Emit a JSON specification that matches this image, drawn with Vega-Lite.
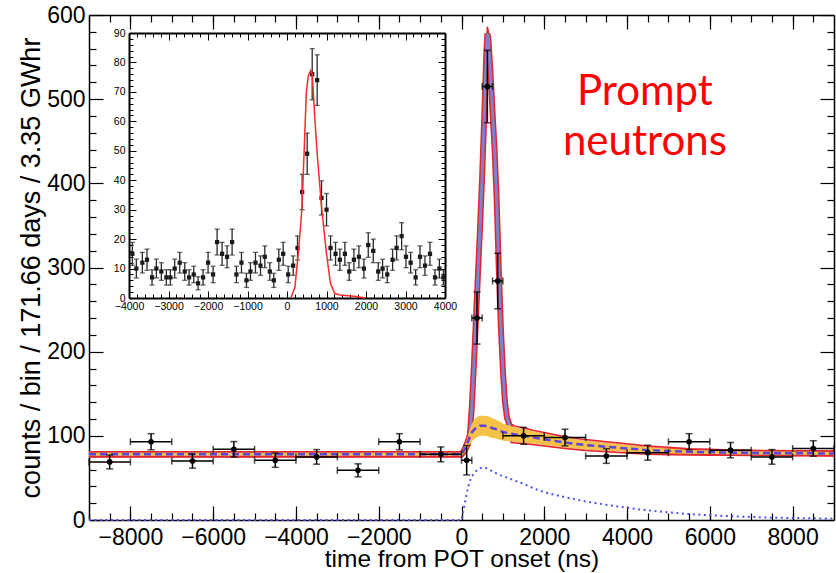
{
"$schema": "https://vega.github.io/schema/vega-lite/v6.json",
"width": 745, "height": 505,
"autosize": {"type": "none"},
"padding": {"left": 89, "top": 15, "right": 2, "bottom": 53},
"background": "white",
"config": {"font": "Liberation Sans", "view": {"stroke": null},
  "axis": {"grid": false, "domainColor": "black", "tickColor": "black", "labelColor": "black", "titleColor": "black", "labelFont": "Liberation Sans", "titleFont": "Liberation Sans", "titleFontWeight": "normal", "zindex": 1, "labelFlush": false, "labelOverlap": false, "format": "d"}},
"datasets": {
"pts": [
{"t":-8500,"lo":-9000,"hi":-8000,"v":69,"ylo":60.7,"yhi":77.3},
{"t":-7500,"lo":-8000,"hi":-7000,"v":93,"ylo":83.4,"yhi":102.6},
{"t":-6500,"lo":-7000,"hi":-6000,"v":70,"ylo":61.6,"yhi":78.4},
{"t":-5500,"lo":-6000,"hi":-5000,"v":84,"ylo":74.8,"yhi":93.2},
{"t":-4500,"lo":-5000,"hi":-4000,"v":71,"ylo":62.6,"yhi":79.4},
{"t":-3500,"lo":-4000,"hi":-3000,"v":75,"ylo":66.3,"yhi":83.7},
{"t":-2500,"lo":-3000,"hi":-2000,"v":59,"ylo":51.3,"yhi":66.7},
{"t":-1500,"lo":-2000,"hi":-1000,"v":93,"ylo":83.4,"yhi":102.6},
{"t":-500,"lo":-1000,"hi":0,"v":78,"ylo":69.2,"yhi":86.8},
{"t":125,"lo":0,"hi":250,"v":71,"ylo":53.5,"yhi":88.5},
{"t":375,"lo":250,"hi":500,"v":240,"ylo":209,"yhi":271},
{"t":625,"lo":500,"hi":750,"v":515,"ylo":472,"yhi":558},
{"t":875,"lo":750,"hi":1000,"v":284,"ylo":251,"yhi":317},
{"t":1500,"lo":1000,"hi":2000,"v":100,"ylo":90,"yhi":110},
{"t":2500,"lo":2000,"hi":3000,"v":98,"ylo":88.1,"yhi":107.9},
{"t":3500,"lo":3000,"hi":4000,"v":76,"ylo":67.3,"yhi":84.7},
{"t":4500,"lo":4000,"hi":5000,"v":80,"ylo":71.1,"yhi":88.9},
{"t":5500,"lo":5000,"hi":6000,"v":93,"ylo":83.4,"yhi":102.6},
{"t":6500,"lo":6000,"hi":7000,"v":83,"ylo":73.9,"yhi":92.1},
{"t":7500,"lo":7000,"hi":8000,"v":75,"ylo":66.3,"yhi":83.7},
{"t":8500,"lo":8000,"hi":9000,"v":85,"ylo":75.8,"yhi":94.2}
],
"fit": [
{"t":-9000,"tot":78,"totLo":75,"totHi":81,"bg":78,"bgLo":76.2,"bgHi":79.8,"dly":0},
{"t":0,"tot":78,"totLo":75,"totHi":81,"bg":78,"bgLo":76.2,"bgHi":79.8,"dly":0},
{"t":50,"tot":82,"totLo":77,"totHi":87,"bg":82,"bgLo":78.5,"bgHi":85.5,"dly":12},
{"t":100,"tot":86,"totLo":79.5,"totHi":92.5,"bg":86,"bgLo":81,"bgHi":91,"dly":25},
{"t":150,"tot":93,"totLo":83.5,"totHi":100.5,"bg":92,"bgLo":85,"bgHi":99,"dly":37},
{"t":200,"tot":100,"totLo":88.5,"totHi":109.5,"bg":99,"bgLo":90,"bgHi":108,"dly":46},
{"t":250,"tot":135,"totLo":127,"totHi":143,"bg":104,"bgLo":93.5,"bgHi":114.5,"dly":52},
{"t":300,"tot":185,"totLo":177,"totHi":193,"bg":107,"bgLo":95.5,"bgHi":118.5,"dly":55},
{"t":350,"tot":240,"totLo":232,"totHi":248,"bg":109.5,"bgLo":97.5,"bgHi":121.5,"dly":58},
{"t":400,"tot":295,"totLo":287,"totHi":303,"bg":111,"bgLo":99,"bgHi":123,"dly":60},
{"t":450,"tot":350,"totLo":342,"totHi":358,"bg":112,"bgLo":100,"bgHi":124,"dly":61.5},
{"t":500,"tot":410,"totLo":402,"totHi":418,"bg":112,"bgLo":100,"bgHi":124,"dly":62.5},
{"t":550,"tot":480,"totLo":472,"totHi":488,"bg":112,"bgLo":100,"bgHi":124,"dly":62},
{"t":600,"tot":555,"totLo":547,"totHi":563,"bg":111.7,"bgLo":99.7,"bgHi":123.7,"dly":61.5},
{"t":625,"tot":578,"totLo":570,"totHi":586,"bg":111.5,"bgLo":99.5,"bgHi":123.5,"dly":61},
{"t":650,"tot":572,"totLo":564,"totHi":580,"bg":111,"bgLo":99,"bgHi":123,"dly":60.5},
{"t":700,"tot":532,"totLo":524,"totHi":540,"bg":110,"bgLo":98,"bgHi":122,"dly":59},
{"t":750,"tot":485,"totLo":477,"totHi":493,"bg":109,"bgLo":97.5,"bgHi":120.5,"dly":58},
{"t":800,"tot":440,"totLo":432,"totHi":448,"bg":108.5,"bgLo":97,"bgHi":120,"dly":56.5},
{"t":850,"tot":380,"totLo":372,"totHi":388,"bg":107.5,"bgLo":96.5,"bgHi":118.5,"dly":55},
{"t":900,"tot":300,"totLo":292,"totHi":308,"bg":106.5,"bgLo":95.5,"bgHi":117.5,"dly":54},
{"t":950,"tot":230,"totLo":222,"totHi":238,"bg":105.5,"bgLo":95,"bgHi":116,"dly":53},
{"t":1000,"tot":178,"totLo":170,"totHi":186,"bg":104.5,"bgLo":94.5,"bgHi":114.5,"dly":52},
{"t":1050,"tot":140,"totLo":132,"totHi":148,"bg":104,"bgLo":94,"bgHi":114,"dly":51},
{"t":1100,"tot":121,"totLo":113,"totHi":129,"bg":103.5,"bgLo":94,"bgHi":113,"dly":50.5},
{"t":1150,"tot":114,"totLo":106,"totHi":122,"bg":103,"bgLo":93.5,"bgHi":112.5,"dly":49},
{"t":1200,"tot":108,"totLo":92,"totHi":114,"bg":102.5,"bgLo":93.5,"bgHi":111.5,"dly":48.5},
{"t":1300,"tot":104,"totLo":91.5,"totHi":111.5,"bg":101.5,"bgLo":93,"bgHi":110,"dly":46.5},
{"t":1500,"tot":101,"totLo":90.5,"totHi":109.5,"bg":100,"bgLo":92,"bgHi":108,"dly":43},
{"t":1750,"tot":98.5,"totLo":89.5,"totHi":106.5,"bg":98,"bgLo":91,"bgHi":105,"dly":37.5},
{"t":2000,"tot":96.3,"totLo":88,"totHi":104,"bg":96,"bgLo":89.5,"bgHi":102.5,"dly":33},
{"t":2500,"tot":92,"totLo":85,"totHi":99,"bg":92,"bgLo":86.5,"bgHi":97.5,"dly":27},
{"t":3000,"tot":89,"totLo":82.5,"totHi":95.5,"bg":89,"bgLo":84,"bgHi":94,"dly":22},
{"t":3500,"tot":87,"totLo":81,"totHi":93,"bg":87,"bgLo":82.5,"bgHi":91.5,"dly":18},
{"t":4000,"tot":85,"totLo":79.5,"totHi":90.5,"bg":85,"bgLo":81,"bgHi":89,"dly":14.5},
{"t":4500,"tot":83,"totLo":78,"totHi":88,"bg":83,"bgLo":79.5,"bgHi":86.5,"dly":11.5},
{"t":5000,"tot":82,"totLo":77.5,"totHi":86.5,"bg":82,"bgLo":79,"bgHi":85,"dly":9.2},
{"t":5500,"tot":81,"totLo":77.2,"totHi":84.8,"bg":81,"bgLo":78.7,"bgHi":83.3,"dly":7},
{"t":6000,"tot":80.5,"totLo":77,"totHi":84,"bg":80.5,"bgLo":78.5,"bgHi":82.5,"dly":5.7},
{"t":6500,"tot":80,"totLo":76.8,"totHi":83.2,"bg":80,"bgLo":78.2,"bgHi":81.8,"dly":4.5},
{"t":7000,"tot":79.7,"totLo":76.6,"totHi":82.8,"bg":79.7,"bgLo":77.9,"bgHi":81.5,"dly":3.6},
{"t":7500,"tot":79.5,"totLo":76.5,"totHi":82.5,"bg":79.5,"bgLo":77.7,"bgHi":81.3,"dly":2.8},
{"t":8000,"tot":79.3,"totLo":76.3,"totHi":82.3,"bg":79.3,"bgLo":77.5,"bgHi":81.1,"dly":2.4},
{"t":8500,"tot":79.2,"totLo":76.2,"totHi":82.2,"bg":79.2,"bgLo":77.4,"bgHi":81,"dly":2},
{"t":9000,"tot":79,"totLo":76,"totHi":82,"bg":79,"bgLo":77.2,"bgHi":80.8,"dly":1.6}
],
"ins": [
{"t":-3915,"v":15,"ylo":11.1,"yhi":18.9},{"t":-3814,"v":10,"ylo":6.8,"yhi":13.2},{"t":-3662,"v":12,"ylo":8.5,"yhi":15.5},{"t":-3544,"v":13,"ylo":9.4,"yhi":16.6},
{"t":-3417,"v":7,"ylo":4.4,"yhi":9.6},{"t":-3307,"v":10,"ylo":6.8,"yhi":13.2},{"t":-3181,"v":9,"ylo":6,"yhi":12},{"t":-3054,"v":7,"ylo":4.4,"yhi":9.6},
{"t":-2953,"v":7,"ylo":4.4,"yhi":9.6},{"t":-2843,"v":10,"ylo":6.8,"yhi":13.2},{"t":-2716,"v":12,"ylo":8.5,"yhi":15.5},{"t":-2589,"v":9,"ylo":6,"yhi":12},
{"t":-2479,"v":7,"ylo":4.4,"yhi":9.6},{"t":-2361,"v":8,"ylo":5.2,"yhi":10.8},{"t":-2251,"v":5,"ylo":2.8,"yhi":7.2},{"t":-2125,"v":7,"ylo":4.4,"yhi":9.6},
{"t":-1998,"v":12,"ylo":8.5,"yhi":15.5},{"t":-1871,"v":8,"ylo":5.2,"yhi":10.8},{"t":-1770,"v":19,"ylo":14.6,"yhi":23.4},{"t":-1643,"v":15,"ylo":11.1,"yhi":18.9},
{"t":-1517,"v":14,"ylo":10.3,"yhi":17.7},{"t":-1390,"v":19,"ylo":14.6,"yhi":23.4},{"t":-1280,"v":8,"ylo":5.2,"yhi":10.8},{"t":-1153,"v":12,"ylo":8.5,"yhi":15.5},
{"t":-1026,"v":6,"ylo":3.6,"yhi":8.4},{"t":-925,"v":9,"ylo":6,"yhi":12},{"t":-798,"v":12,"ylo":8.5,"yhi":15.5},{"t":-671,"v":11,"ylo":7.7,"yhi":14.3},
{"t":-562,"v":14,"ylo":10.3,"yhi":17.7},{"t":-435,"v":9,"ylo":6,"yhi":12},{"t":-334,"v":6,"ylo":3.6,"yhi":8.4},{"t":-207,"v":13,"ylo":9.4,"yhi":16.6},
{"t":-97,"v":15,"ylo":11.1,"yhi":18.9},{"t":30,"v":8,"ylo":5.2,"yhi":10.8},{"t":156,"v":11,"ylo":7.7,"yhi":14.3},{"t":266,"v":17,"ylo":12.9,"yhi":21.1},
{"t":384,"v":36,"ylo":30,"yhi":42},{"t":511,"v":49,"ylo":42,"yhi":56},{"t":638,"v":76,"ylo":67.3,"yhi":84.7},{"t":764,"v":74,"ylo":65.4,"yhi":82.6},
{"t":874,"v":34,"ylo":28.2,"yhi":39.8},{"t":1001,"v":30,"ylo":24.5,"yhi":35.5},{"t":1102,"v":17,"ylo":12.9,"yhi":21.1},{"t":1229,"v":15,"ylo":11.1,"yhi":18.9},
{"t":1339,"v":13,"ylo":9.4,"yhi":16.6},{"t":1465,"v":15,"ylo":11.1,"yhi":18.9},{"t":1575,"v":9,"ylo":6,"yhi":12},{"t":1694,"v":13,"ylo":9.4,"yhi":16.6},
{"t":1820,"v":14,"ylo":10.3,"yhi":17.7},{"t":1947,"v":10,"ylo":6.8,"yhi":13.2},{"t":2057,"v":18,"ylo":13.8,"yhi":22.2},{"t":2184,"v":16,"ylo":12,"yhi":20},
{"t":2310,"v":9,"ylo":6,"yhi":12},{"t":2420,"v":10,"ylo":6.8,"yhi":13.2},{"t":2538,"v":8,"ylo":5.2,"yhi":10.8},{"t":2673,"v":13,"ylo":9.4,"yhi":16.6},
{"t":2775,"v":17,"ylo":12.9,"yhi":21.1},{"t":2902,"v":21,"ylo":16.4,"yhi":25.6},{"t":3012,"v":14,"ylo":10.3,"yhi":17.7},{"t":3130,"v":12,"ylo":8.5,"yhi":15.5},
{"t":3257,"v":7,"ylo":4.4,"yhi":9.6},{"t":3366,"v":14,"ylo":10.3,"yhi":17.7},{"t":3493,"v":11,"ylo":7.7,"yhi":14.3},{"t":3620,"v":15,"ylo":11.1,"yhi":18.9},
{"t":3747,"v":7,"ylo":4.4,"yhi":9.6},{"t":3857,"v":10,"ylo":6.8,"yhi":13.2},{"t":3958,"v":7,"ylo":4.4,"yhi":9.6}
],
"insfit": [
{"t":100,"v":0},{"t":200,"v":3.7},{"t":300,"v":17},{"t":380,"v":31},{"t":440,"v":52},{"t":490,"v":70},{"t":540,"v":75.5},{"t":600,"v":77.3},
{"t":640,"v":76},{"t":663,"v":70.5},{"t":700,"v":62},{"t":764,"v":49},{"t":874,"v":31},{"t":1000,"v":15},{"t":1100,"v":5},{"t":1210,"v":1.5},
{"t":1340,"v":1},{"t":1550,"v":0.8},{"t":1760,"v":0.5},{"t":1970,"v":0}
],
"lbl": [{"t":4430,"v":493,"text":"Prompt neutrons"}]
},
"layer": [
{
"resolve": {"axis": {"x": "independent", "y": "independent"}},
"layer": [
{"data": {"name": "fit"}, "mark": {"type": "area", "color": "#f3a3a3", "opacity": 0.85},
 "encoding": {
  "x": {"field": "t", "type": "quantitative", "scale": {"domain": [-9000, 9000], "nice": false, "zero": false},
        "axis": {"orient": "bottom", "values": [-8000,-6000,-4000,-2000,0,2000,4000,6000,8000], "tickSize": -14, "tickWidth": 1.2, "domainWidth": 1.5, "labelFontSize": 23, "labelPadding": 20, "title": "time from POT onset (ns)", "titleFontSize": 24.5, "titlePadding": -2}},
  "y": {"field": "totLo", "type": "quantitative", "scale": {"domain": [0, 600], "nice": false, "zero": false},
        "axis": {"orient": "left", "values": [0,100,200,300,400,500,600], "tickSize": -14, "tickWidth": 1.2, "domainWidth": 1.5, "labelFontSize": 23, "labelPadding": 18, "title": "counts / bin / 171.66 days / 3.35 GWhr", "titleFontSize": 27, "titlePadding": 1}},
  "y2": {"field": "totHi"}}},
{"data": {"name": "fit"}, "mark": {"type": "line", "color": "#e3262b", "strokeWidth": 1.5},
 "encoding": {
  "x": {"field": "t", "type": "quantitative", "scale": {"domain": [-9000, 9000], "nice": false, "zero": false},
        "axis": {"orient": "bottom", "values": [-9000,-8500,-8000,-7500,-7000,-6500,-6000,-5500,-5000,-4500,-4000,-3500,-3000,-2500,-2000,-1500,-1000,-500,0,500,1000,1500,2000,2500,3000,3500,4000,4500,5000,5500,6000,6500,7000,7500,8000,8500], "tickSize": -7, "tickWidth": 1.2, "domain": false, "labels": false, "title": null}},
  "y": {"field": "totLo", "type": "quantitative", "scale": {"domain": [0, 600], "nice": false, "zero": false},
        "axis": {"orient": "left", "values": [20,40,60,80,120,140,160,180,220,240,260,280,320,340,360,380,420,440,460,480,520,540,560,580], "tickSize": -7, "tickWidth": 1.2, "domain": false, "labels": false, "title": null}}}},
{"data": {"name": "fit"}, "mark": {"type": "line", "color": "#e3262b", "strokeWidth": 1.5},
 "encoding": {
  "x": {"field": "t", "type": "quantitative", "scale": {"domain": [-9000, 9000], "nice": false, "zero": false},
        "axis": {"orient": "top", "values": [-8000,-6000,-4000,-2000,0,2000,4000,6000,8000], "tickSize": -14, "tickWidth": 1.2, "domainWidth": 1.5, "labels": false, "title": null}},
  "y": {"field": "totHi", "type": "quantitative", "scale": {"domain": [0, 600], "nice": false, "zero": false},
        "axis": {"orient": "right", "values": [0,100,200,300,400,500,600], "tickSize": -14, "tickWidth": 1.2, "domainWidth": 1.5, "labels": false, "title": null}}}},
{"data": {"name": "fit"}, "mark": {"type": "line", "color": "#e3262b", "strokeWidth": 6},
 "encoding": {
  "x": {"field": "t", "type": "quantitative", "scale": {"domain": [-9000, 9000], "nice": false, "zero": false},
        "axis": {"orient": "top", "values": [-9000,-8500,-8000,-7500,-7000,-6500,-6000,-5500,-5000,-4500,-4000,-3500,-3000,-2500,-2000,-1500,-1000,-500,0,500,1000,1500,2000,2500,3000,3500,4000,4500,5000,5500,6000,6500,7000,7500,8000,8500], "tickSize": -7, "tickWidth": 1.2, "domain": false, "labels": false, "title": null}},
  "y": {"field": "tot", "type": "quantitative", "scale": {"domain": [0, 600], "nice": false, "zero": false},
        "axis": {"orient": "right", "values": [20,40,60,80,120,140,160,180,220,240,260,280,320,340,360,380,420,440,460,480,520,540,560,580], "tickSize": -7, "tickWidth": 1.2, "domain": false, "labels": false, "title": null}}}},
{"data": {"name": "fit"}, "mark": {"type": "line", "color": "#7b82cf", "strokeWidth": 3},
 "encoding": {"x": {"field": "t", "type": "quantitative", "axis": null}, "y": {"field": "tot", "type": "quantitative", "axis": null}}},
{"data": {"name": "fit"}, "mark": {"type": "area", "color": "#f5c146", "opacity": 1},
 "encoding": {"x": {"field": "t", "type": "quantitative", "axis": null}, "y": {"field": "bgLo", "type": "quantitative", "axis": null}, "y2": {"field": "bgHi"}}},
{"data": {"name": "fit"}, "mark": {"type": "line", "color": "#5c45d8", "strokeWidth": 2.5, "strokeDash": [7, 4]},
 "encoding": {"x": {"field": "t", "type": "quantitative", "axis": null}, "y": {"field": "bg", "type": "quantitative", "axis": null}}},
{"data": {"name": "fit"}, "mark": {"type": "line", "color": "#4d55ee", "strokeWidth": 2, "strokeDash": [2, 3.5]},
 "encoding": {"x": {"field": "t", "type": "quantitative", "axis": null}, "y": {"field": "dly", "type": "quantitative", "axis": null}}},
{"data": {"name": "pts"}, "mark": {"type": "rule", "color": "black", "strokeWidth": 1.5},
 "encoding": {"x": {"field": "t", "type": "quantitative", "axis": null}, "y": {"field": "ylo", "type": "quantitative", "axis": null}, "y2": {"field": "yhi"}}},
{"data": {"name": "pts"}, "mark": {"type": "rule", "color": "black", "strokeWidth": 1.5},
 "encoding": {"x": {"field": "lo", "type": "quantitative", "axis": null}, "x2": {"field": "hi"}, "y": {"field": "v", "type": "quantitative", "axis": null}}},
{"data": {"name": "pts"}, "mark": {"type": "tick", "color": "black", "orient": "horizontal", "size": 7, "thickness": 1.5},
 "encoding": {"x": {"field": "t", "type": "quantitative", "axis": null}, "y": {"field": "yhi", "type": "quantitative", "axis": null}}},
{"data": {"name": "pts"}, "mark": {"type": "tick", "color": "black", "orient": "horizontal", "size": 7, "thickness": 1.5},
 "encoding": {"x": {"field": "t", "type": "quantitative", "axis": null}, "y": {"field": "ylo", "type": "quantitative", "axis": null}}},
{"data": {"name": "pts"}, "mark": {"type": "tick", "color": "black", "orient": "vertical", "size": 7, "thickness": 1.5},
 "encoding": {"x": {"field": "lo", "type": "quantitative", "axis": null}, "y": {"field": "v", "type": "quantitative", "axis": null}}},
{"data": {"name": "pts"}, "mark": {"type": "tick", "color": "black", "orient": "vertical", "size": 7, "thickness": 1.5},
 "encoding": {"x": {"field": "hi", "type": "quantitative", "axis": null}, "y": {"field": "v", "type": "quantitative", "axis": null}}},
{"data": {"name": "pts"}, "mark": {"type": "point", "shape": "circle", "filled": true, "color": "black", "size": 32, "opacity": 1},
 "encoding": {"x": {"field": "t", "type": "quantitative", "axis": null}, "y": {"field": "v", "type": "quantitative", "axis": null}}},
{"data": {"name": "lbl"}, "mark": {"type": "text", "font": "Lato", "fontSize": 42, "color": "#ff0000", "align": "center", "baseline": "alphabetic", "lineBreak": " ", "lineHeight": 50},
 "encoding": {"x": {"field": "t", "type": "quantitative", "axis": null}, "y": {"field": "v", "type": "quantitative", "axis": null}, "text": {"field": "text"}}}
]
},
{
"resolve": {"axis": {"x": "independent", "y": "independent"}},
"layer": [
{"data": {"name": "ins"}, "mark": {"type": "rule", "color": "#2a2a2a", "strokeWidth": 1.3},
 "encoding": {
  "x": {"field": "t", "type": "quantitative", "scale": {"domain": [-4000, 4000], "range": [40, 356], "nice": false, "zero": false},
        "axis": {"orient": "bottom", "offset": -222, "values": [-4000,-3000,-2000,-1000,0,1000,2000,3000,4000], "tickSize": -7, "domainWidth": 2, "labelFontSize": 10.5, "labelPadding": 10, "title": null}},
  "y": {"field": "ylo", "type": "quantitative", "scale": {"domain": [0, 90], "range": [283, 18], "nice": false, "zero": false},
        "axis": {"orient": "left", "offset": -40, "values": [0,10,20,30,40,50,60,70,80,90], "tickSize": -7, "domainWidth": 2, "labelFontSize": 10.5, "labelPadding": 11, "title": null}},
  "y2": {"field": "yhi"}}},
{"data": {"name": "ins"}, "mark": {"type": "tick", "color": "#2a2a2a", "orient": "horizontal", "size": 5, "thickness": 1.3},
 "encoding": {
  "x": {"field": "t", "type": "quantitative", "scale": {"domain": [-4000, 4000], "range": [40, 356], "nice": false, "zero": false},
        "axis": {"orient": "bottom", "offset": -222, "values": [-3800,-3600,-3400,-3200,-2800,-2600,-2400,-2200,-1800,-1600,-1400,-1200,-800,-600,-400,-200,200,400,600,800,1200,1400,1600,1800,2200,2400,2600,2800,3200,3400,3600,3800], "tickSize": -4, "domain": false, "labels": false, "title": null}},
  "y": {"field": "yhi", "type": "quantitative", "scale": {"domain": [0, 90], "range": [283, 18], "nice": false, "zero": false},
        "axis": {"orient": "left", "offset": -40, "values": [2,4,6,8,12,14,16,18,22,24,26,28,32,34,36,38,42,44,46,48,52,54,56,58,62,64,66,68,72,74,76,78,82,84,86,88], "tickSize": -4, "domain": false, "labels": false, "title": null}}}},
{"data": {"name": "ins"}, "mark": {"type": "tick", "color": "#2a2a2a", "orient": "horizontal", "size": 5, "thickness": 1.3},
 "encoding": {
  "x": {"field": "t", "type": "quantitative", "scale": {"domain": [-4000, 4000], "range": [40, 356], "nice": false, "zero": false},
        "axis": {"orient": "top", "offset": -18, "values": [-4000,-3000,-2000,-1000,0,1000,2000,3000,4000], "tickSize": -7, "domainWidth": 2, "labels": false, "title": null}},
  "y": {"field": "ylo", "type": "quantitative", "scale": {"domain": [0, 90], "range": [283, 18], "nice": false, "zero": false},
        "axis": {"orient": "right", "offset": -389, "values": [0,10,20,30,40,50,60,70,80,90], "tickSize": -7, "domainWidth": 2, "labels": false, "title": null}}}},
{"data": {"name": "ins"}, "mark": {"type": "square", "color": "#1a1a1a", "filled": true, "size": 18, "opacity": 1},
 "encoding": {
  "x": {"field": "t", "type": "quantitative", "scale": {"domain": [-4000, 4000], "range": [40, 356], "nice": false, "zero": false},
        "axis": {"orient": "top", "offset": -18, "values": [-3800,-3600,-3400,-3200,-2800,-2600,-2400,-2200,-1800,-1600,-1400,-1200,-800,-600,-400,-200,200,400,600,800,1200,1400,1600,1800,2200,2400,2600,2800,3200,3400,3600,3800], "tickSize": -4, "domain": false, "labels": false, "title": null}},
  "y": {"field": "v", "type": "quantitative", "scale": {"domain": [0, 90], "range": [283, 18], "nice": false, "zero": false},
        "axis": {"orient": "right", "offset": -389, "values": [2,4,6,8,12,14,16,18,22,24,26,28,32,34,36,38,42,44,46,48,52,54,56,58,62,64,66,68,72,74,76,78,82,84,86,88], "tickSize": -4, "domain": false, "labels": false, "title": null}}}},
{"data": {"name": "insfit"}, "mark": {"type": "line", "color": "#ff2a2a", "strokeWidth": 1.5},
 "encoding": {"x": {"field": "t", "type": "quantitative", "axis": null}, "y": {"field": "v", "type": "quantitative", "axis": null}}}
]
}
],
"resolve": {"scale": {"x": "independent", "y": "independent"}, "axis": {"x": "independent", "y": "independent"}}
}
